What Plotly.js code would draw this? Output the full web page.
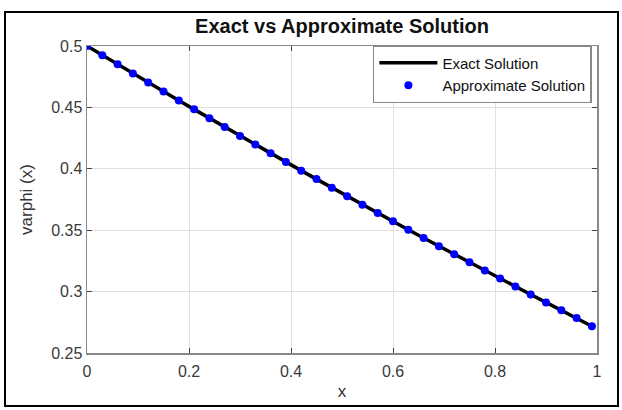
<!DOCTYPE html>
<html>
<head>
<meta charset="utf-8">
<script src="https://cdn.plot.ly/plotly-3.0.1.min.js"></script>
<style>
  html, body { margin:0; padding:0; background:#fff; }
  #wrap { position:relative; width:622px; height:410px; }
  #chart { width:622px; height:410px; }
  #frame { position:absolute; left:4px; top:11px; width:611px; height:392px; border:2px solid #000; pointer-events:none; }
</style>
</head>
<body>
<div id="wrap">
  <div id="chart"></div>
  <div id="frame"></div>
</div>
<script>
const xValues = [0, 0.03, 0.06, 0.09, 0.12, 0.15, 0.18, 0.21, 0.24, 0.27, 0.30, 0.33, 0.36, 0.39, 0.42, 0.45, 0.48,
                 0.51, 0.54, 0.57, 0.60, 0.63, 0.66, 0.69, 0.72, 0.75, 0.78, 0.81, 0.84, 0.87, 0.90, 0.93, 0.96, 0.99];
const exactValues = [0.5000, 0.4925, 0.4851, 0.4777, 0.4703, 0.4630, 0.4556, 0.4484, 0.4412, 0.4340, 0.4268, 0.4197,
                     0.4126, 0.4055, 0.3985, 0.3916, 0.3846, 0.3777, 0.3708, 0.3640, 0.3572, 0.3504, 0.3437, 0.3370,
                     0.3304, 0.3238, 0.3172, 0.3106, 0.3041, 0.2976, 0.2912, 0.2848, 0.2784, 0.2718];
const approxValues = [0.5000, 0.4925, 0.4851, 0.4777, 0.4703, 0.4630, 0.4556, 0.4484, 0.4412, 0.4340, 0.4268, 0.4197,
                      0.4126, 0.4055, 0.3985, 0.3916, 0.3846, 0.3777, 0.3708, 0.3640, 0.3572, 0.3504, 0.3437, 0.3370,
                      0.3304, 0.3238, 0.3172, 0.3106, 0.3041, 0.2976, 0.2912, 0.2848, 0.2784, 0.2718];
const xTicks = [0, 0.2, 0.4, 0.6, 0.8, 1];
const xTickLabels = ['0', '0.2', '0.4', '0.6', '0.8', '1'];
const yTicks = [0.25, 0.3, 0.35, 0.4, 0.45, 0.5];
const yTickLabels = ['0.25', '0.3', '0.35', '0.4', '0.45', '0.5'];

const font = 'Liberation Sans, Arial, sans-serif';
const axisCommon = {
  showline: true, mirror: 'ticks', linecolor: '#888', linewidth: 1.5,
  ticks: 'inside', ticklen: 5, tickcolor: '#444', tickwidth: 1,
  showgrid: true, gridcolor: '#e0e0e0', gridwidth: 1, zeroline: false,
  tickfont: { family: font, size: 16, color: '#3a3a3a' }
};

const traces = [
  { x: xValues, y: exactValues, mode: 'lines', name: 'Exact Solution',
    line: { color: '#000', width: 3.5 } },
  { x: xValues, y: approxValues, mode: 'markers', name: 'Approximate Solution',
    marker: { color: '#0000ff', size: 8, line: { width: 0 } } }
];

const layout = {
  width: 622, height: 410,
  margin: { l: 87, r: 25, t: 46, b: 57 },
  paper_bgcolor: '#fff', plot_bgcolor: '#fff',
  title: { text: '<b>Exact vs Approximate Solution</b>', x: 0.5, xref: 'paper', xanchor: 'center',
           y: 1 - 26 / 410, yref: 'container', yanchor: 'middle',
           font: { family: font, size: 20, color: '#111' } },
  xaxis: Object.assign({}, axisCommon, {
    range: [0, 1], tickvals: xTicks, ticktext: xTickLabels, ticklabelstandoff: 3,
    title: { text: 'x', font: { family: font, size: 17, color: '#333' }, standoff: 6 }
  }),
  yaxis: Object.assign({}, axisCommon, {
    range: [0.25, 0.5], tickvals: yTicks, ticktext: yTickLabels,
    title: { text: 'varphi (x)', font: { family: font, size: 17, color: '#333' }, standoff: 14 }
  }),
  legend: { x: 0.99, y: 1.003, xanchor: 'right', yanchor: 'top', bgcolor: '#fff',
            bordercolor: '#888', borderwidth: 1.5, itemwidth: 58,
            font: { family: font, size: 15, color: '#111' }, tracegroupgap: 0 },
  showlegend: true
};

Plotly.newPlot('chart', traces, layout, { displayModeBar: false, staticPlot: true });
</script>
</body>
</html>
